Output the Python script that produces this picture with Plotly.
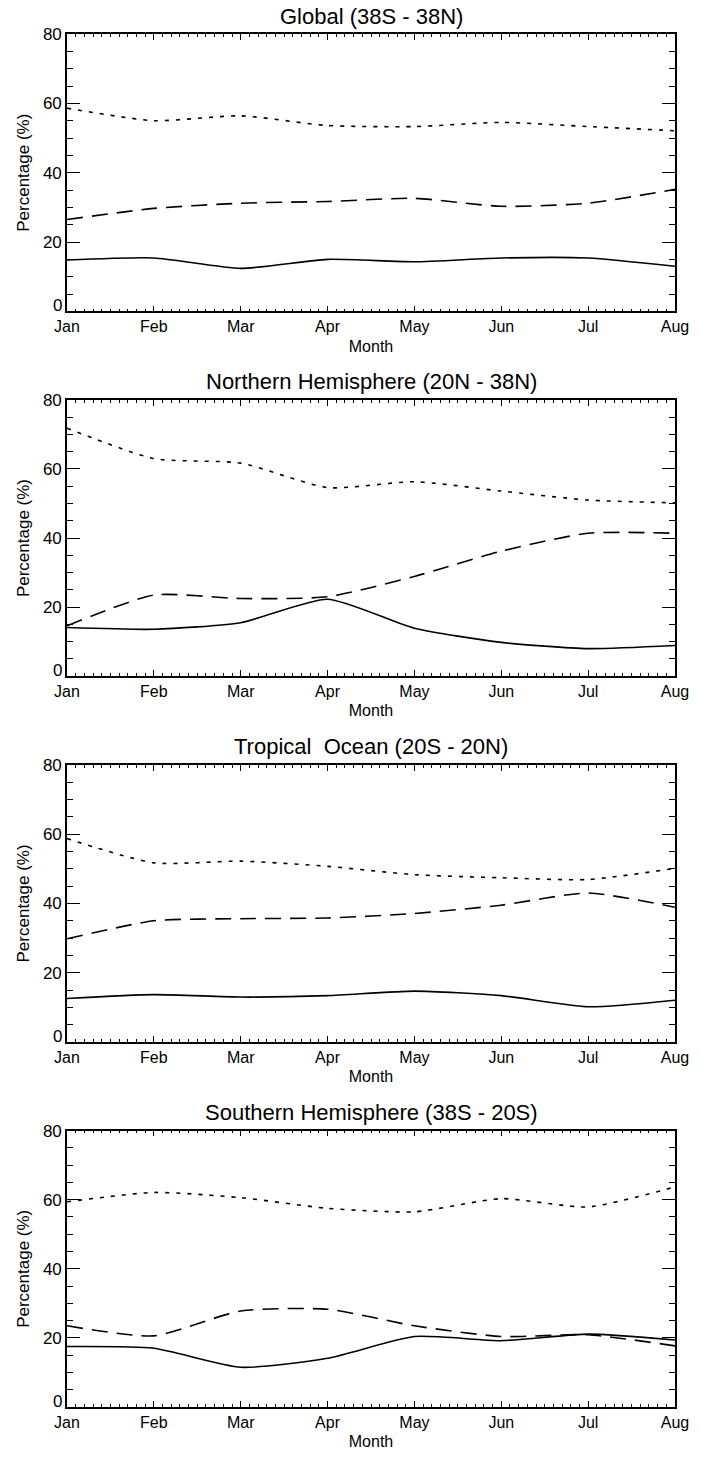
import plotly.graph_objects as go
from plotly.subplots import make_subplots

months = ["Jan", "Feb", "Mar", "Apr", "May", "Jun", "Jul", "Aug"]
month_pos = [0, 1, 2, 3, 4, 5, 6, 7]
y_ticks = [0, 20, 40, 60, 80]
y_ticktext = ["", "20", "40", "60", "80"]  # "0" drawn separately, nudged up as in the original

titles = ["Global (38S - 38N)", "Northern Hemisphere (20N - 38N)",
          "Tropical  Ocean (20S - 20N)", "Southern Hemisphere (38S - 20S)"]

# dotted series
global_dot = [58.6, 55.0, 56.4, 53.6, 53.3, 54.5, 53.3, 52.1]
nh_dot = [71.8, 63.0, 61.7, 54.6, 56.3, 53.6, 51.0, 50.2]
trop_dot = [58.7, 51.7, 52.2, 50.7, 48.3, 47.4, 46.9, 50.1]
sh_dot = [59.4, 62.1, 60.6, 57.5, 56.5, 60.3, 57.9, 63.7]

# dashed series
global_dash = [26.5, 29.7, 31.2, 31.7, 32.6, 30.3, 31.2, 35.2]
nh_dash = [14.6, 23.5, 22.5, 23.0, 28.9, 36.2, 41.4, 41.4]
trop_dash = [29.8, 35.0, 35.6, 35.8, 37.1, 39.5, 43.0, 38.9]
sh_dash = [23.5, 20.6, 27.8, 28.3, 23.5, 20.4, 20.9, 17.7]

# solid series
global_solid = [14.8, 15.4, 12.4, 15.0, 14.3, 15.4, 15.4, 13.0]
nh_solid = [14.1, 13.6, 15.5, 22.3, 13.9, 9.8, 8.0, 8.9]
trop_solid = [12.6, 13.7, 13.0, 13.4, 14.7, 13.4, 10.2, 12.1]
sh_solid = [17.5, 17.0, 11.5, 14.1, 20.4, 19.2, 21.1, 19.4]

panels = [
    (global_dot, global_dash, global_solid),
    (nh_dot, nh_dash, nh_solid),
    (trop_dot, trop_dash, trop_solid),
    (sh_dot, sh_dash, sh_solid),
]

W, H = 701, 1460
ML, MR, MT, MB = 67, 18, 34, 45
plot_h = H - MT - MB
# pixel (top, bottom) of each panel box
boxes = [(34, 313), (402, 680), (769, 1048), (1137, 1415)]

def fy(py):
    return (H - MB - py) / plot_h

fig = make_subplots(rows=4, cols=1)

styles = ["4px,7px", "16px,9px", "solid"]
FONT = "Liberation Sans, Arial, sans-serif"

# minor tick positions: 10 per month on x
x_minor = [m / 10 for m in range(0, 71) if m % 10]

for i, series in enumerate(panels):
    r = i + 1
    for vals, dash in zip(series, styles):
        fig.add_trace(go.Scatter(
            x=month_pos, y=vals, mode="lines",
            line=dict(color="black", width=1.6, dash=dash, shape="spline", smoothing=0.6),
            showlegend=False, hoverinfo="skip"), row=r, col=1)
    top, bot = boxes[i]
    fig.update_yaxes(domain=[fy(bot), fy(top)], row=r, col=1)
    fig.add_annotation(text=titles[i], x=0.5, xref="paper", xanchor="center",
                       y=fy(top - 18), yref="paper", yanchor="middle",
                       showarrow=False, font=dict(size=22, color="black", family=FONT))
    xa = "x" if r == 1 else f"x{r}"
    ya = "y" if r == 1 else f"y{r}"
    fig.add_annotation(text="0", x=0, xref=f"{xa} domain", xanchor="right", xshift=-3,
                       y=0, yref=ya, yanchor="middle", yshift=6,
                       showarrow=False, font=dict(size=17, color="black", family=FONT))

fig.update_xaxes(
    range=[0, 7], tickvals=month_pos, ticktext=months,
    ticks="inside", ticklen=6, tickwidth=1.2, tickcolor="black",
    minor=dict(tickvals=x_minor, ticklen=3, tickwidth=1, tickcolor="black", ticks="inside", showgrid=False),
    showline=True, linecolor="black", linewidth=1.6, mirror="allticks",
    showgrid=False, zeroline=False, ticklabeloverflow="allow",
    tickfont=dict(size=16, color="black", family=FONT),
    title=dict(text="Month", font=dict(size=16, color="black", family=FONT), standoff=6),
)
fig.update_yaxes(
    range=[0, 80], tickvals=y_ticks, ticktext=y_ticktext,
    ticks="inside", ticklen=13, tickwidth=1.4, tickcolor="black",
    minor=dict(dtick=5, ticklen=6, tickwidth=1.2, tickcolor="black", ticks="inside", showgrid=False),
    showline=True, linecolor="black", linewidth=1.6, mirror="allticks",
    showgrid=False, zeroline=False,
    tickfont=dict(size=17, color="black", family=FONT),
    title=dict(text="Percentage (%)", font=dict(size=17, color="black", family=FONT), standoff=9),
)

fig.update_layout(
    width=W, height=H,
    margin=dict(l=ML, r=MR, t=MT, b=MB),
    paper_bgcolor="white", plot_bgcolor="white",
    font=dict(family=FONT, color="black"),
)

fig.write_html("out.html", config={"displayModeBar": False},
               post_script="document.body.style.margin='0px';document.body.style.overflow='hidden';")
